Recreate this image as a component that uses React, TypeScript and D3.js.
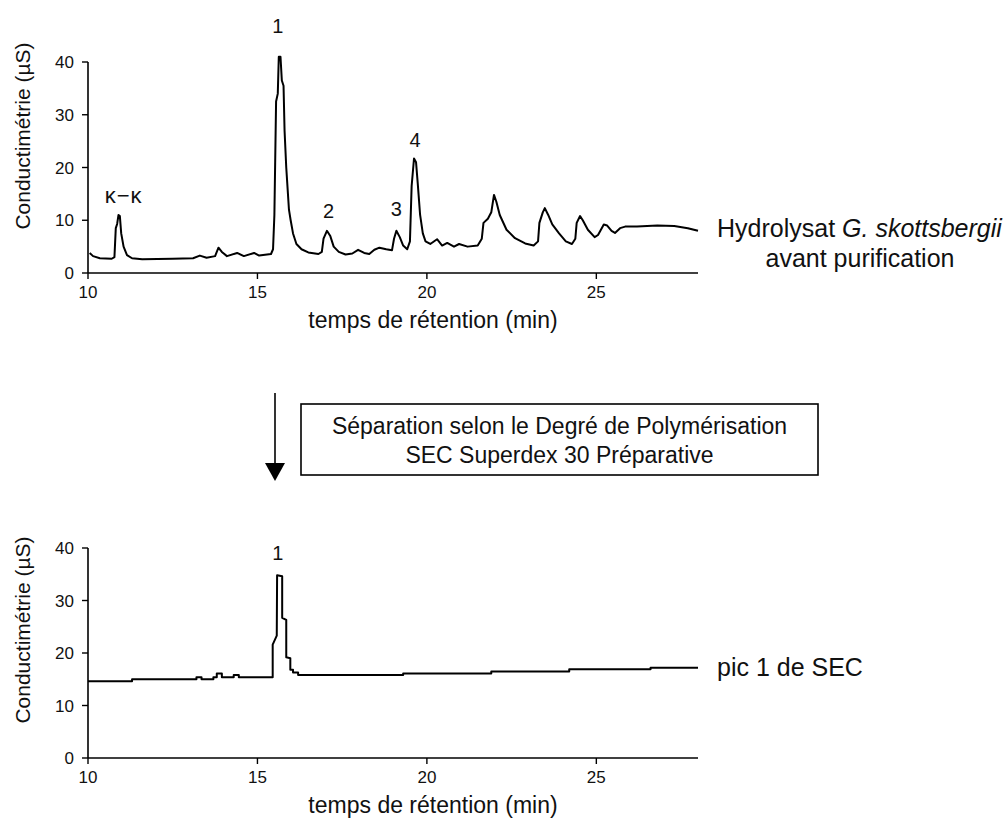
import React from "react";
import * as d3 from "d3";

// ---- data ----
const topTime = [10.05, 10.15, 10.35, 10.7, 10.78, 10.82, 10.86, 10.9, 10.94, 10.98, 11.05, 11.15, 11.3, 11.6, 12.5, 13.1, 13.3, 13.5, 13.75, 13.85, 13.95, 14.1, 14.4, 14.6, 14.9, 15.05, 15.4, 15.46, 15.5, 15.55, 15.6, 15.63, 15.68, 15.72, 15.77, 15.8, 15.85, 15.88, 15.93, 15.98, 16.05, 16.15, 16.3, 16.5, 16.8, 16.9, 16.95, 17.05, 17.15, 17.25, 17.4, 17.6, 17.8, 17.97, 18.15, 18.3, 18.45, 18.6, 18.8, 18.97, 19.03, 19.1, 19.2, 19.3, 19.42, 19.5, 19.55, 19.62, 19.68, 19.73, 19.8, 19.88, 19.96, 20.1, 20.3, 20.45, 20.6, 20.8, 20.95, 21.2, 21.5, 21.62, 21.67, 21.8, 21.9, 21.98, 22.05, 22.15, 22.35, 22.6, 22.9, 23.15, 23.28, 23.32, 23.42, 23.48, 23.58, 23.7, 23.9, 24.1, 24.28, 24.38, 24.42, 24.52, 24.6, 24.75, 24.95, 25.05, 25.22, 25.32, 25.45, 25.55, 25.7, 25.85, 26.2, 26.8, 27.3, 27.7, 28.0];
const topSignal = [3.8, 3.2, 2.8, 2.7, 3.0, 8.5, 9.3, 11.0, 10.8, 7.5, 5.0, 3.4, 2.8, 2.6, 2.7, 2.8, 3.3, 2.9, 3.2, 4.8, 4.0, 3.2, 3.8, 3.2, 3.8, 3.3, 3.6, 4.5, 11.0, 32.5, 34.0, 41.0, 41.0, 36.5, 35.5, 27.0, 20.0, 17.0, 12.0, 10.0, 7.5, 5.5, 4.5, 3.9, 3.6, 4.0, 6.5, 8.0, 7.0, 5.0, 4.0, 3.5, 3.7, 4.4, 3.8, 3.6, 4.4, 4.8, 4.5, 4.3, 6.5, 8.0, 6.8, 5.2, 4.5, 6.0, 16.5, 21.7, 21.0, 17.0, 11.0, 7.5, 6.0, 5.5, 6.4, 5.2, 5.7, 5.0, 5.5, 5.0, 5.2, 6.5, 9.5, 10.3, 11.5, 14.8, 13.5, 11.0, 8.2, 6.6, 5.6, 5.2, 6.0, 9.5, 11.5, 12.3, 11.0, 9.2, 7.5, 6.0, 5.5, 6.5, 9.5, 10.8, 10.0, 8.2, 6.8, 7.2, 9.2, 9.0, 8.0, 7.6, 8.5, 8.8, 8.8, 9.0, 8.9, 8.5, 8.0];

const bottomTime = [10.0, 11.3, 11.3, 13.2, 13.2, 13.35, 13.35, 13.7, 13.7, 13.8, 13.8, 13.95, 13.95, 14.3, 14.3, 14.45, 14.45, 15.45, 15.45, 15.57, 15.58, 15.73, 15.73, 15.85, 15.85, 15.97, 15.97, 16.05, 16.05, 16.2, 16.2, 19.3, 19.3, 21.9, 21.9, 24.2, 24.2, 26.6, 26.6, 28.0];
const bottomSignal = [14.6, 14.6, 15.0, 15.0, 15.4, 15.4, 15.0, 15.0, 15.4, 15.4, 16.1, 16.1, 15.4, 15.4, 15.8, 15.8, 15.4, 15.4, 21.6, 23.3, 34.8, 34.6, 26.7, 26.3, 19.2, 19.0, 16.8, 16.8, 16.3, 16.3, 15.8, 15.8, 16.1, 16.1, 16.5, 16.5, 16.9, 16.9, 17.2, 17.2];

const xTicks = [10, 15, 20, 25];
const yTicks = [0, 10, 20, 30, 40];

const topPeakLabels = [
  { label: "κ−κ", t: 11.05, v: 13.3 },
  { label: "1", t: 15.6, v: 45.5 },
  { label: "2", t: 17.1, v: 10.5 },
  { label: "3", t: 19.1, v: 10.9 },
  { label: "4", t: 19.65, v: 23.9 },
];
const bottomPeakLabels = [{ label: "1", t: 15.6, v: 37.8 }];

const FONT = "'Liberation Sans', Arial, Helvetica, sans-serif";

type PanelProps = {
  times: number[];
  values: number[];
  y0: number;
  y40: number;
  peaks: { label: string; t: number; v: number }[];
  titleCenterY: number;
};

function Panel({ times, values, y0, y40, peaks, titleCenterY }: PanelProps) {
  const x = d3.scaleLinear().domain([10, 28]).range([88, 698]);
  const y = d3.scaleLinear().domain([0, 40]).range([y0, y40]);
  const pts = times.map((t, i) => [t, values[i]] as [number, number]);
  const line = d3
    .line<[number, number]>()
    .x((d) => x(d[0]))
    .y((d) => y(d[1]))
    .curve(d3.curveLinear);
  return (
    <g>
      <line x1={x(10)} x2={x(28)} y1={y(0)} y2={y(0)} stroke="#000" strokeWidth={1.6} />
      <line x1={x(10)} x2={x(10)} y1={y(0)} y2={y(40)} stroke="#000" strokeWidth={1.6} />
      {xTicks.map((t) => (
        <g key={"xt" + t}>
          <line x1={x(t)} x2={x(t)} y1={y(0)} y2={y(0) + 6} stroke="#000" strokeWidth={1.4} />
          <text x={x(t)} y={y(0) + 25} textAnchor="middle" fontSize={17} fontFamily={FONT} fill="#111">
            {t}
          </text>
        </g>
      ))}
      {yTicks.map((v) => (
        <g key={"yt" + v}>
          <line x1={x(10) - 6} x2={x(10)} y1={y(v)} y2={y(v)} stroke="#000" strokeWidth={1.4} />
          <text x={x(10) - 14} y={y(v) + 6} textAnchor="end" fontSize={17} fontFamily={FONT} fill="#111">
            {v}
          </text>
        </g>
      ))}
      <text x={433} y={y(0) + 55} textAnchor="middle" fontSize={23} fontFamily={FONT} fill="#111">
        temps de rétention (min)
      </text>
      <text
        transform={`translate(30,${titleCenterY}) rotate(-90)`}
        textAnchor="middle"
        fontSize={21}
        fontFamily={FONT}
        fill="#111"
      >
        Conductimétrie (µS)
      </text>
      <path d={line(pts) || ""} fill="none" stroke="#000" strokeWidth={2} strokeLinejoin="round" />
      {peaks.map((p) => (
        <text
          key={p.label + p.t}
          x={x(p.t)}
          y={y(p.v)}
          textAnchor="middle"
          fontSize={p.label.length > 1 ? 22 : 20}
          letterSpacing={p.label.length > 1 ? 1 : 0}
          fontFamily={FONT}
          fill="#111"
        >
          {p.label}
        </text>
      ))}
    </g>
  );
}

export default function App() {
  return (
    <svg width={1005} height={819} style={{ position: "absolute", left: 0, top: 0, background: "#fff" }}>
      <rect x={0} y={0} width={1005} height={819} fill="#fff" />
      <Panel times={topTime} values={topSignal} y0={273} y40={62} peaks={topPeakLabels} titleCenterY={136} />
      <Panel times={bottomTime} values={bottomSignal} y0={758} y40={548} peaks={bottomPeakLabels} titleCenterY={630} />

      <text x={717} y={237} fontSize={25} fontFamily={FONT} fill="#111">
        Hydrolysat <tspan fontStyle="italic">G. skottsbergii</tspan>
      </text>
      <text x={860} y={267} textAnchor="middle" fontSize={25} fontFamily={FONT} fill="#111">
        avant purification
      </text>
      <text x={717} y={676} fontSize={25} fontFamily={FONT} fill="#111">
        pic 1 de SEC
      </text>

      <line x1={275} x2={275} y1={393} y2={466} stroke="#000" strokeWidth={1.6} />
      <path d="M265,463 L285,463 L275,481 Z" fill="#000" />

      <rect x={301} y={404} width={517} height={71} fill="none" stroke="#000" strokeWidth={1.6} />
      <text x={559.5} y={434} textAnchor="middle" fontSize={23} fontFamily={FONT} fill="#111">
        Séparation selon le Degré de Polymérisation
      </text>
      <text x={559.5} y={463} textAnchor="middle" fontSize={23} fontFamily={FONT} fill="#111">
        SEC Superdex 30 Préparative
      </text>
    </svg>
  );
}
